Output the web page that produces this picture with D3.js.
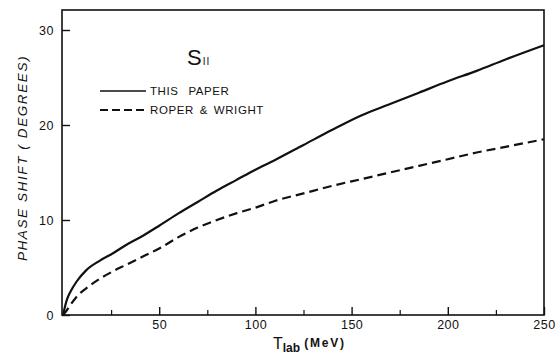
<!DOCTYPE html>
<html>
<head>
<meta charset="utf-8">
<script src="https://cdn.jsdelivr.net/npm/d3@7"></script>
<style>
  body { margin: 0; background: #fff; }
  svg { display: block; }
  text { font-family: "Liberation Sans", Arial, sans-serif; fill: #111; }
</style>
</head>
<body>
<div id="chart"></div>
<script>
// lab kinetic energy (MeV)
var energy = [0, 2, 4, 7, 12, 19, 26, 33, 42, 50, 60, 70, 80, 90, 100, 110, 125, 140, 155, 170, 185, 200, 215, 230, 250];

// S11 phase shift (degrees), this paper
var thisPaper = [0, 1.6, 2.5, 3.5, 4.7, 5.7, 6.5, 7.4, 8.4, 9.4, 10.7, 11.9, 13.1, 14.2, 15.3, 16.3, 17.9, 19.5, 21.0, 22.2, 23.4, 24.6, 25.7, 26.9, 28.4];

// S11 phase shift (degrees), Roper & Wright
var roperWright = [0, 0.5, 1.1, 1.9, 2.8, 3.8, 4.6, 5.3, 6.2, 7.0, 8.2, 9.2, 10.0, 10.7, 11.3, 12.0, 12.8, 13.6, 14.3, 15.0, 15.7, 16.4, 17.1, 17.7, 18.5];

var xMajor = [50, 100, 150, 200, 250];
var xMinor = [25, 75, 125, 175, 225];
var yMajor = [0, 10, 20, 30];

var legendLabels = ["THIS PAPER", "ROPER & WRIGHT"];

var width = 560, height = 360;

var svg = d3.select("#chart").append("svg")
  .attr("width", width)
  .attr("height", height);

var x = d3.scaleLinear().domain([0, 250]).range([63, 544]);
var y = d3.scaleLinear().domain([0, 30]).range([315, 30]);

// frame (top edge sits a bit above 30 deg)
svg.append("rect")
  .attr("x", 62)
  .attr("y", 10)
  .attr("width", 544 - 62)
  .attr("height", 315 - 10)
  .attr("fill", "none")
  .attr("stroke", "#111")
  .attr("stroke-width", 1.6);

// x ticks point inward (up), labels below
var xAxis = d3.axisBottom(x)
  .tickValues(xMajor)
  .tickSize(-8)
  .tickPadding(5)
  .tickFormat(d3.format("d"));

var gx = svg.append("g")
  .attr("transform", "translate(0," + y(0) + ")")
  .call(xAxis);
gx.select(".domain").remove();
gx.selectAll(".tick line").attr("stroke", "#111").attr("stroke-width", 1.4);
gx.selectAll(".tick text").attr("y", 5).attr("dy", "0.71em")
  .style("font-size", "12.5px").style("letter-spacing", "0.5px");

var gxMinor = svg.append("g")
  .attr("transform", "translate(0," + y(0) + ")")
  .call(d3.axisBottom(x).tickValues(xMinor).tickSize(-5).tickFormat(""));
gxMinor.select(".domain").remove();
gxMinor.selectAll(".tick line").attr("stroke", "#111").attr("stroke-width", 1.2);

// y ticks point inward (right)
var yAxis = d3.axisLeft(y)
  .tickValues(yMajor)
  .tickSize(-8)
  .tickPadding(8)
  .tickFormat(d3.format("d"));

var gy = svg.append("g")
  .attr("transform", "translate(62,0)")
  .call(yAxis);
gy.select(".domain").remove();
gy.selectAll(".tick line").attr("stroke", "#111").attr("stroke-width", 1.4);
gy.selectAll(".tick text").style("font-size", "12.5px").style("letter-spacing", "0.5px");

// curves
var line = d3.line()
  .x(function(d) { return x(d[0]); })
  .y(function(d) { return y(d[1]); })
  .curve(d3.curveMonotoneX);

svg.append("path")
  .datum(d3.zip(energy, thisPaper))
  .attr("fill", "none")
  .attr("stroke", "#111")
  .attr("stroke-width", 2.2)
  .attr("d", line);

svg.append("path")
  .datum(d3.zip(energy, roperWright))
  .attr("fill", "none")
  .attr("stroke", "#111")
  .attr("stroke-width", 2.2)
  .attr("stroke-dasharray", "9,5")
  .attr("d", line);

// S11 title
var title = svg.append("text")
  .attr("x", 187)
  .attr("y", 65)
  .style("font-size", "22px");
title.append("tspan").text("S");
title.append("tspan")
  .attr("dx", 1)
  .style("font-size", "10px")
  .style("letter-spacing", "1px")
  .text("II");

// legend
var legend = svg.selectAll(".legend")
  .data(legendLabels)
  .enter().append("g")
  .attr("class", "legend")
  .attr("transform", function(d, i) { return "translate(100," + (91 + i * 19) + ")"; });

legend.append("line")
  .attr("x1", 0)
  .attr("x2", 46)
  .attr("stroke", "#111")
  .attr("stroke-width", function(d, i) { return i ? 2.2 : 1.6; })
  .attr("stroke-dasharray", function(d, i) { return i ? "8,4" : null; });

legend.append("text")
  .attr("x", 50)
  .attr("dy", "0.36em")
  .style("font-size", "11.5px")
  .style("letter-spacing", "0.6px")
  .style("word-spacing", function(d, i) { return i ? "2px" : "6px"; })
  .text(function(d) { return d; });

// y axis title
svg.append("text")
  .attr("transform", "translate(27,158) rotate(-90)")
  .attr("text-anchor", "middle")
  .attr("fill", "#111")
  .style("font-size", "13.5px")
  .style("font-style", "italic")
  .style("letter-spacing", "1.6px")
  .text("PHASE  SHIFT ( DEGREES)");

// x axis title: T with subscript lab, then (MeV)
var xt = svg.append("text")
  .attr("x", 273)
  .attr("y", 349)
  .style("font-size", "16px");
xt.append("tspan").text("T");
xt.append("tspan")
  .attr("dy", 3)
  .style("font-size", "12px")
  .style("font-weight", "bold")
  .text("lab");
xt.append("tspan")
  .attr("dx", 4)
  .attr("dy", -5)
  .style("font-size", "12px")
  .style("font-weight", "bold")
  .style("letter-spacing", "1.8px")
  .text("(MeV)");
</script>
</body>
</html>
